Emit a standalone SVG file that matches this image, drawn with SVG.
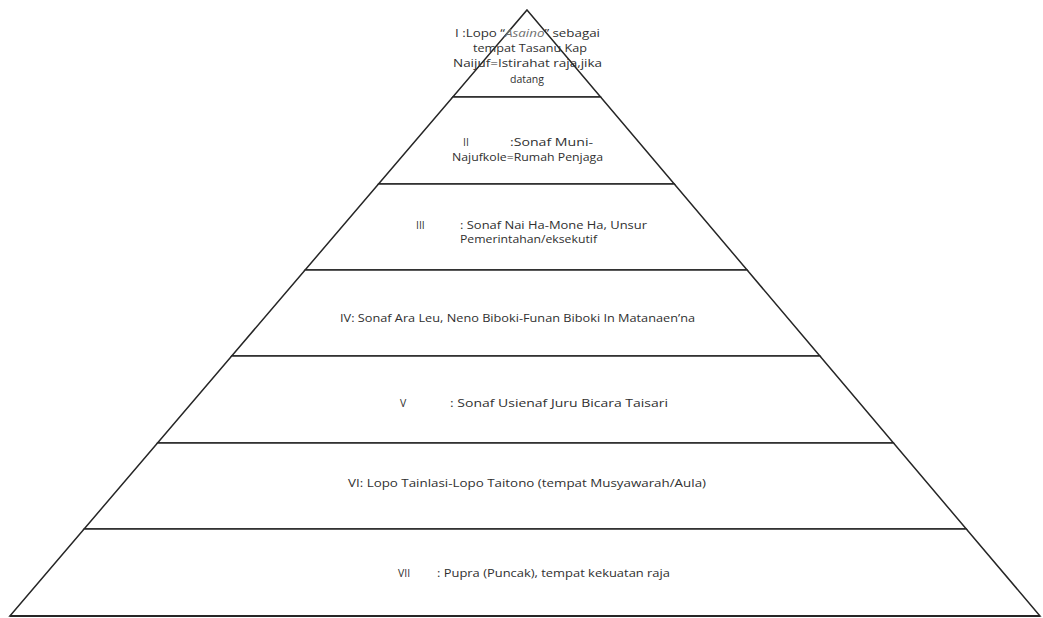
<svg xmlns="http://www.w3.org/2000/svg" width="1043" height="618" viewBox="0 0 1043 618">
  <style>
    .tier { fill: #ffffff; stroke: #262626; stroke-width: 1.5; stroke-linejoin: miter; }
    .lbl { font-family: "Open Sans", "Liberation Sans", sans-serif; font-size: 10.5px; fill: #303030; }
    .it { font-style: italic; fill: #707070; }
  </style>
  <rect x="0" y="0" width="1043" height="618" fill="#ffffff"/>

  <!-- Tier I: apex -->
  <g id="tier-1">
    <polygon class="tier" points="527,10 600.6,97 452.8,97"/>
    <text class="lbl" x="455" y="37" textLength="145" lengthAdjust="spacingAndGlyphs">I :Lopo “<tspan class="it">Asaino</tspan>” sebagai</text>
    <text class="lbl" x="473" y="52" textLength="114" lengthAdjust="spacingAndGlyphs">tempat Tasanu Kap</text>
    <text class="lbl" x="453" y="67" textLength="149" lengthAdjust="spacingAndGlyphs">Naijuf=Istirahat raja,jika</text>
    <text class="lbl" x="527" y="83" text-anchor="middle">datang</text>
  </g>

  <!-- Tier II -->
  <g id="tier-2">
    <polygon class="tier" points="452.8,97 600.6,97 674.3,184 378.5,184"/>
    <text class="lbl" x="463" y="146">II</text>
    <text class="lbl" x="510" y="146" textLength="83" lengthAdjust="spacingAndGlyphs">:Sonaf Muni-</text>
    <text class="lbl" x="452" y="161" textLength="151" lengthAdjust="spacingAndGlyphs">Najufkole=Rumah Penjaga</text>
  </g>

  <!-- Tier III -->
  <g id="tier-3">
    <polygon class="tier" points="378.5,184 674.3,184 747.1,270 305.1,270"/>
    <text class="lbl" x="416" y="229">III</text>
    <text class="lbl" x="460" y="229" textLength="187" lengthAdjust="spacingAndGlyphs">: Sonaf Nai Ha-Mone Ha, Unsur</text>
    <text class="lbl" x="460" y="243" textLength="137" lengthAdjust="spacingAndGlyphs">Pemerintahan/eksekutif</text>
  </g>

  <!-- Tier IV -->
  <g id="tier-4">
    <polygon class="tier" points="305.1,270 747.1,270 819.9,356 231.7,356"/>
    <text class="lbl" x="340" y="322" textLength="355" lengthAdjust="spacingAndGlyphs">IV: Sonaf Ara Leu, Neno Biboki-Funan Biboki In Matanaen’na</text>
  </g>

  <!-- Tier V -->
  <g id="tier-5">
    <polygon class="tier" points="231.7,356 819.9,356 893.5,443 157.5,443"/>
    <text class="lbl" x="400" y="407">V</text>
    <text class="lbl" x="450" y="407" textLength="218" lengthAdjust="spacingAndGlyphs">: Sonaf Usienaf Juru Bicara Taisari</text>
  </g>

  <!-- Tier VI -->
  <g id="tier-6">
    <polygon class="tier" points="157.5,443 893.5,443 966.3,529 84.1,529"/>
    <text class="lbl" x="348" y="487" textLength="358" lengthAdjust="spacingAndGlyphs">VI: Lopo Tainlasi-Lopo Taitono (tempat Musyawarah/Aula)</text>
  </g>

  <!-- Tier VII: base -->
  <g id="tier-7">
    <polygon class="tier" points="84.1,529 966.3,529 1040,616 9.9,616"/>
    <line x1="9.9" y1="616" x2="1040" y2="616" stroke="#262626" stroke-width="2.2"/>
    <text class="lbl" x="398" y="577">VII</text>
    <text class="lbl" x="437" y="577" textLength="233" lengthAdjust="spacingAndGlyphs">: Pupra (Puncak), tempat kekuatan raja</text>
  </g>

  <g id="connectors"></g>
</svg>
